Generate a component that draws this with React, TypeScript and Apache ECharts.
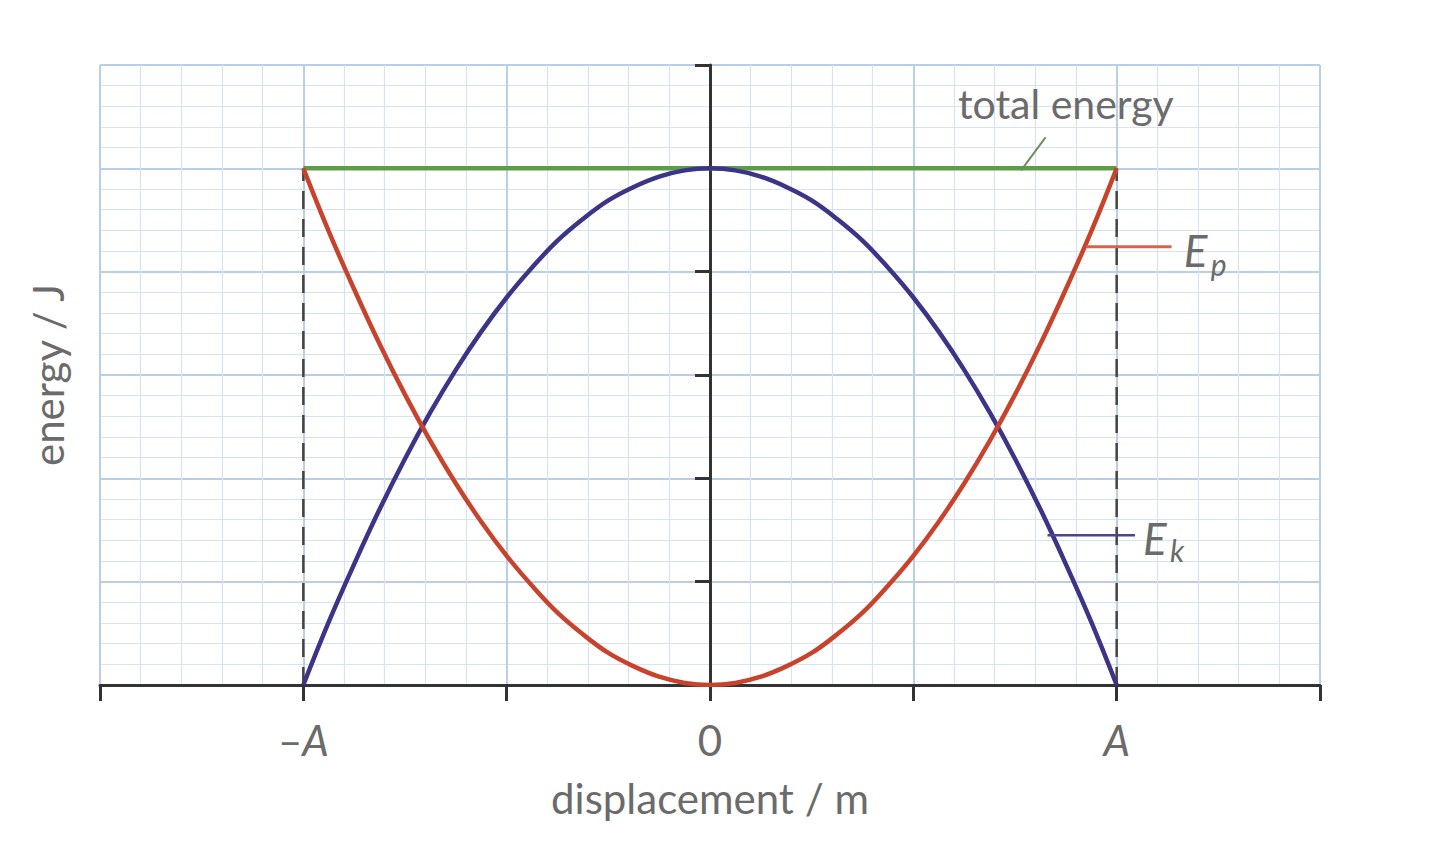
import React, { useEffect, useRef } from "react";
import * as echarts from "echarts";

// ---- data ----
const DISPLACEMENT = [
  -2, -1.875, -1.75, -1.625, -1.5, -1.375, -1.25, -1.125, -1, -0.875, -0.75, -0.625, -0.5, -0.375, -0.25, -0.125,
  0, 0.125, 0.25, 0.375, 0.5, 0.625, 0.75, 0.875, 1, 1.125, 1.25, 1.375, 1.5, 1.625, 1.75, 1.875, 2,
];
const EP = [
  5, 4.39, 3.83, 3.3, 2.81, 2.36, 1.95, 1.58, 1.25, 0.96, 0.7, 0.49, 0.31, 0.18, 0.08, 0.02,
  0, 0.02, 0.08, 0.18, 0.31, 0.49, 0.7, 0.96, 1.25, 1.58, 1.95, 2.36, 2.81, 3.3, 3.83, 4.39, 5,
];
const EK = [
  0, 0.61, 1.17, 1.7, 2.19, 2.64, 3.05, 3.42, 3.75, 4.04, 4.3, 4.51, 4.69, 4.82, 4.92, 4.98,
  5, 4.98, 4.92, 4.82, 4.69, 4.51, 4.3, 4.04, 3.75, 3.42, 3.05, 2.64, 2.19, 1.7, 1.17, 0.61, 0,
];
const TOTAL_ENERGY = 5;
const AMPLITUDE = 2;

const X_MIN = -3;
const X_MAX = 3;
const Y_MIN = 0;
const Y_MAX = 6;
const X_TICK_LABELS: Record<string, string> = { "-2": "–{i|A}", "0": "0", "2": "{i|A}" };

// annotation anchors (data coordinates)
const TOTAL_LABEL_AT = [1.75, 5.63];
const TOTAL_LEADER = [[1.65, 5.3], [1.53, 4.98]];
const EP_LEADER = [[1.85, 4.24], [2.27, 4.24]];
const EP_LABEL_AT = [2.33, 4.21];
const EK_LEADER = [[1.66, 1.45], [2.09, 1.45]];
const EK_LABEL_AT = [2.13, 1.42];

const TEXT_COLOR = "#6b6b6b";
const FONT = "Lato";
const RED = "#c8432c";
const BLUE = "#3b3487";
const GREEN = "#5e9d48";

export default function App() {
  const ref = useRef<HTMLDivElement>(null);

  useEffect(() => {
    const chart = echarts.init(ref.current!, null, { renderer: "svg" });
    const pairs = (ys: number[]) => DISPLACEMENT.map((x, i) => [x, ys[i]]);

    chart.setOption({
      animation: false,
      backgroundColor: "#ffffff",
      grid: { left: 100, right: 120, top: 65, bottom: 176 },
      xAxis: {
        type: "value",
        min: X_MIN,
        max: X_MAX,
        interval: 1,
        name: "displacement / m",
        nameLocation: "middle",
        nameGap: 92,
        nameTextStyle: { fontFamily: FONT, fontSize: 42, color: TEXT_COLOR },
        axisLine: { onZero: true, lineStyle: { color: "#333", width: 3 } },
        axisTick: { show: true, length: 16, lineStyle: { color: "#333", width: 3 } },
        minorTick: { show: false, splitNumber: 5 },
        axisLabel: {
          margin: 34,
          fontFamily: FONT,
          fontSize: 42,
          color: TEXT_COLOR,
          formatter: (v: number) => X_TICK_LABELS[String(v)] ?? "",
          rich: { i: { fontFamily: FONT, fontSize: 42, color: TEXT_COLOR, fontStyle: "italic" } },
        },
        splitLine: { show: true, lineStyle: { color: "#b9cfe5", width: 2 } },
        minorSplitLine: { show: true, lineStyle: { color: "#d6e3f0", width: 1.2 } },
      },
      yAxis: {
        type: "value",
        min: Y_MIN,
        max: Y_MAX,
        interval: 1,
        axisLine: { onZero: true, lineStyle: { color: "#333", width: 3 } },
        axisTick: { show: true, length: 15, lineStyle: { color: "#333", width: 3 } },
        minorTick: { show: false, splitNumber: 5 },
        axisLabel: { show: false },
        splitLine: { show: true, lineStyle: { color: "#b9cfe5", width: 2 } },
        minorSplitLine: { show: true, lineStyle: { color: "#d6e3f0", width: 1.2 } },
      },
      series: [
        {
          name: "amplitude -A",
          type: "line",
          data: [[-AMPLITUDE, 0], [-AMPLITUDE, TOTAL_ENERGY]],
          symbol: "none",
          lineStyle: { color: "#444", width: 2.5, type: [18, 10] },
          z: 1,
        },
        {
          name: "amplitude A",
          type: "line",
          data: [[AMPLITUDE, 0], [AMPLITUDE, TOTAL_ENERGY]],
          symbol: "none",
          lineStyle: { color: "#444", width: 2.5, type: [18, 10] },
          z: 1,
        },
        {
          name: "total energy",
          type: "line",
          data: [[-AMPLITUDE, TOTAL_ENERGY], [AMPLITUDE, TOTAL_ENERGY]],
          symbol: "none",
          lineStyle: { color: GREEN, width: 4.5 },
          z: 2,
        },
        {
          name: "Ek",
          type: "line",
          data: pairs(EK),
          smooth: 0.4,
          symbol: "none",
          lineStyle: { color: BLUE, width: 4.5 },
          z: 3,
        },
        {
          name: "Ep",
          type: "line",
          data: pairs(EP),
          smooth: 0.4,
          symbol: "none",
          lineStyle: { color: RED, width: 4.5 },
          z: 4,
        },
      ],
    });

    const px = (p: number[]) => chart.convertToPixel({ gridIndex: 0 }, p) as number[];
    const line = (a: number[], b: number[], stroke: string, w: number) => {
      const pa = px(a);
      const pb = px(b);
      return {
        type: "line",
        shape: { x1: pa[0], y1: pa[1], x2: pb[0], y2: pb[1] },
        style: { stroke, lineWidth: w },
        z: 10,
      };
    };
    const tl = px(TOTAL_LABEL_AT);
    const ep = px(EP_LABEL_AT);
    const ek = px(EK_LABEL_AT);
    const mid = px([0, (Y_MIN + Y_MAX) / 2]);

    chart.setOption({
      graphic: [
        line(TOTAL_LEADER[0], TOTAL_LEADER[1], "#6f8e60", 2),
        line(EP_LEADER[0], EP_LEADER[1], "#d4644a", 3),
        line(EK_LEADER[0], EK_LEADER[1], "#4a4492", 2.5),
        {
          type: "text",
          x: tl[0],
          y: tl[1],
          z: 10,
          style: { text: "total energy", fontFamily: FONT, fontSize: 41, fill: TEXT_COLOR, align: "center", verticalAlign: "middle" },
        },
        {
          type: "text",
          x: ep[0],
          y: ep[1],
          z: 10,
          style: { text: "E", fontFamily: FONT, fontSize: 44, fontStyle: "italic", fill: TEXT_COLOR, align: "left", verticalAlign: "middle" },
        },
        {
          type: "text",
          x: ep[0] + 27,
          y: ep[1] + 14,
          z: 10,
          style: { text: "p", fontFamily: FONT, fontSize: 30, fontStyle: "italic", fill: TEXT_COLOR, align: "left", verticalAlign: "middle" },
        },
        {
          type: "text",
          x: ek[0],
          y: ek[1],
          z: 10,
          style: { text: "E", fontFamily: FONT, fontSize: 44, fontStyle: "italic", fill: TEXT_COLOR, align: "left", verticalAlign: "middle" },
        },
        {
          type: "text",
          x: ek[0] + 27,
          y: ek[1] + 12,
          z: 10,
          style: { text: "k", fontFamily: FONT, fontSize: 30, fontStyle: "italic", fill: TEXT_COLOR, align: "left", verticalAlign: "middle" },
        },
        {
          type: "text",
          x: 48,
          y: mid[1],
          rotation: Math.PI / 2,
          z: 10,
          style: { text: "energy / J", fontFamily: FONT, fontSize: 42, fill: TEXT_COLOR, align: "center", verticalAlign: "middle" },
        },
      ],
    });

    return () => chart.dispose();
  }, []);

  return (
    <div
      ref={ref}
      style={{ position: "absolute", left: 0, top: 0, width: 1440, height: 861, background: "#fff" }}
    />
  );
}
